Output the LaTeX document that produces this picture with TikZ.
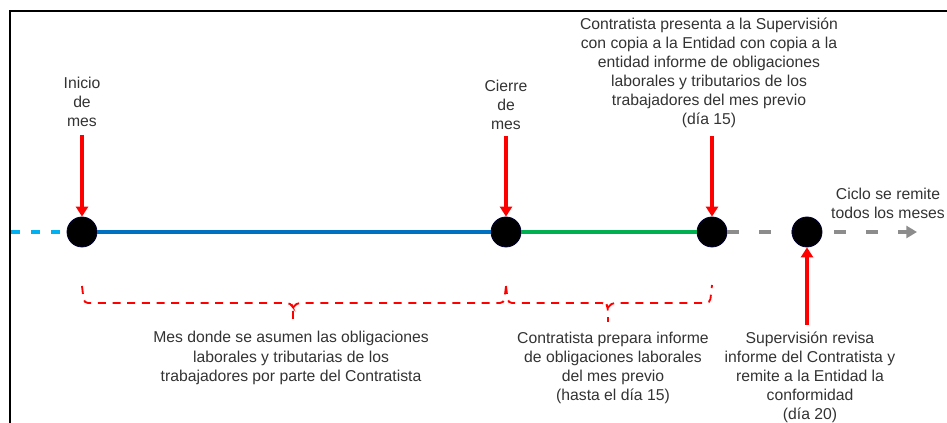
\documentclass[tikz,border=0pt]{standalone}
\usepackage{fontspec}
\setmainfont{Liberation Sans}
\usetikzlibrary{arrows.meta}
\definecolor{txt}{HTML}{333333}
\definecolor{cyanl}{HTML}{00B0F0}
\definecolor{bluel}{HTML}{0070C0}
\definecolor{greenl}{HTML}{00B050}
\definecolor{grayl}{HTML}{8C8C8C}
\definecolor{redl}{HTML}{FF0000}
\tikzset{
  lbl/.style={align=center, text=txt, font=\fontsize{11.8}{14.3}\selectfont, inner sep=0pt},
  dot/.style={circle, fill=black, draw=black!80!blue, line width=0.6pt, minimum size=22.5pt, inner sep=0pt},
  redarrow/.style={draw=redl, line width=3.2pt, -{Triangle[width=9pt,length=7.5pt]}},
  brace/.style={draw=redl, line width=1.4pt, dash pattern=on 6pt off 5pt, rounded corners=3pt},
  tl/.style={line width=3pt}
}
\begin{document}
\begin{tikzpicture}[x=0.75pt,y=-0.75pt]
\useasboundingbox (0,0) rectangle (947,423);
% frame
\draw[line width=1.5pt] (10,423) -- (10,11) -- (947,11);
% dots
\node[dot] (d1) at (82,232) {};
\node[dot] (d2) at (506,232) {};
\node[dot] (d3) at (712,232) {};
\node[dot] (d4) at (807,232) {};
\coordinate (s0) at (11,232);
\coordinate (e0) at (917,232);
% timeline
\draw[tl, draw=cyanl, dash pattern=on 7pt off 8pt] (s0) -- (d1.west);
\draw[tl, draw=bluel] (d1.east) -- (d2.west);
\draw[tl, draw=greenl] (d2.east) -- (d3.west);
\draw[tl, draw=grayl, dash pattern=on 9pt off 15pt] (d3.east) -- (d4.west);
\draw[tl, draw=grayl, dash pattern=on 9pt off 15pt, -{Triangle[width=9pt,length=8pt]}] (d4.east) ++(12,0) -- (e0);
% top labels
\node[lbl] (l1) at (82,102) {Inicio\\de\\mes};
\node[lbl] (l2) at (506,105) {Cierre\\de\\mes};
\node[lbl] (l3) at (709,73) {Contratista presenta a la Supervisión\\con copia a la Entidad con copia a la\\entidad informe de obligaciones\\laborales y tributarios de los\\trabajadores del mes previo\\(día 15)};
\node[lbl] (l4) at (888,203) {Ciclo se remite\\todos los meses};
% red arrows
\coordinate (a1) at (82,135);
\coordinate (a2) at (506,136);
\coordinate (a3) at (712,136);
\coordinate (a4) at (807,325);
\draw[redarrow] (a1) -- (d1.north);
\draw[redarrow] (a2) -- (d2.north);
\draw[redarrow] (a3) -- (d3.north);
\draw[redarrow] (a4) -- (d4.south);
% braces
\draw[brace] (82,286) -- (84,303) -- (291,303) -- (293,308) -- (293,322);
\draw[brace] (293,308) -- (296,303) -- (504,303) -- (506,286);
\draw[brace] (506,286) -- (508,303) -- (606,303) -- (608,308) -- (608,322);
\draw[brace] (608,308) -- (611,303) -- (710,303) -- (712,285);
% bottom labels
\node[lbl] (b1) at (291,358) {Mes donde se asumen las obligaciones\\laborales y tributarias de los\\trabajadores por parte del Contratista};
\node[lbl] (b2) at (613,368) {Contratista prepara informe\\de obligaciones laborales\\del mes previo\\(hasta el día 15)};
\node[lbl] (b3) at (810,377) {Supervisión revisa\\informe del Contratista y\\remite a la Entidad la\\conformidad\\(día 20)};
\end{tikzpicture}
\end{document}
